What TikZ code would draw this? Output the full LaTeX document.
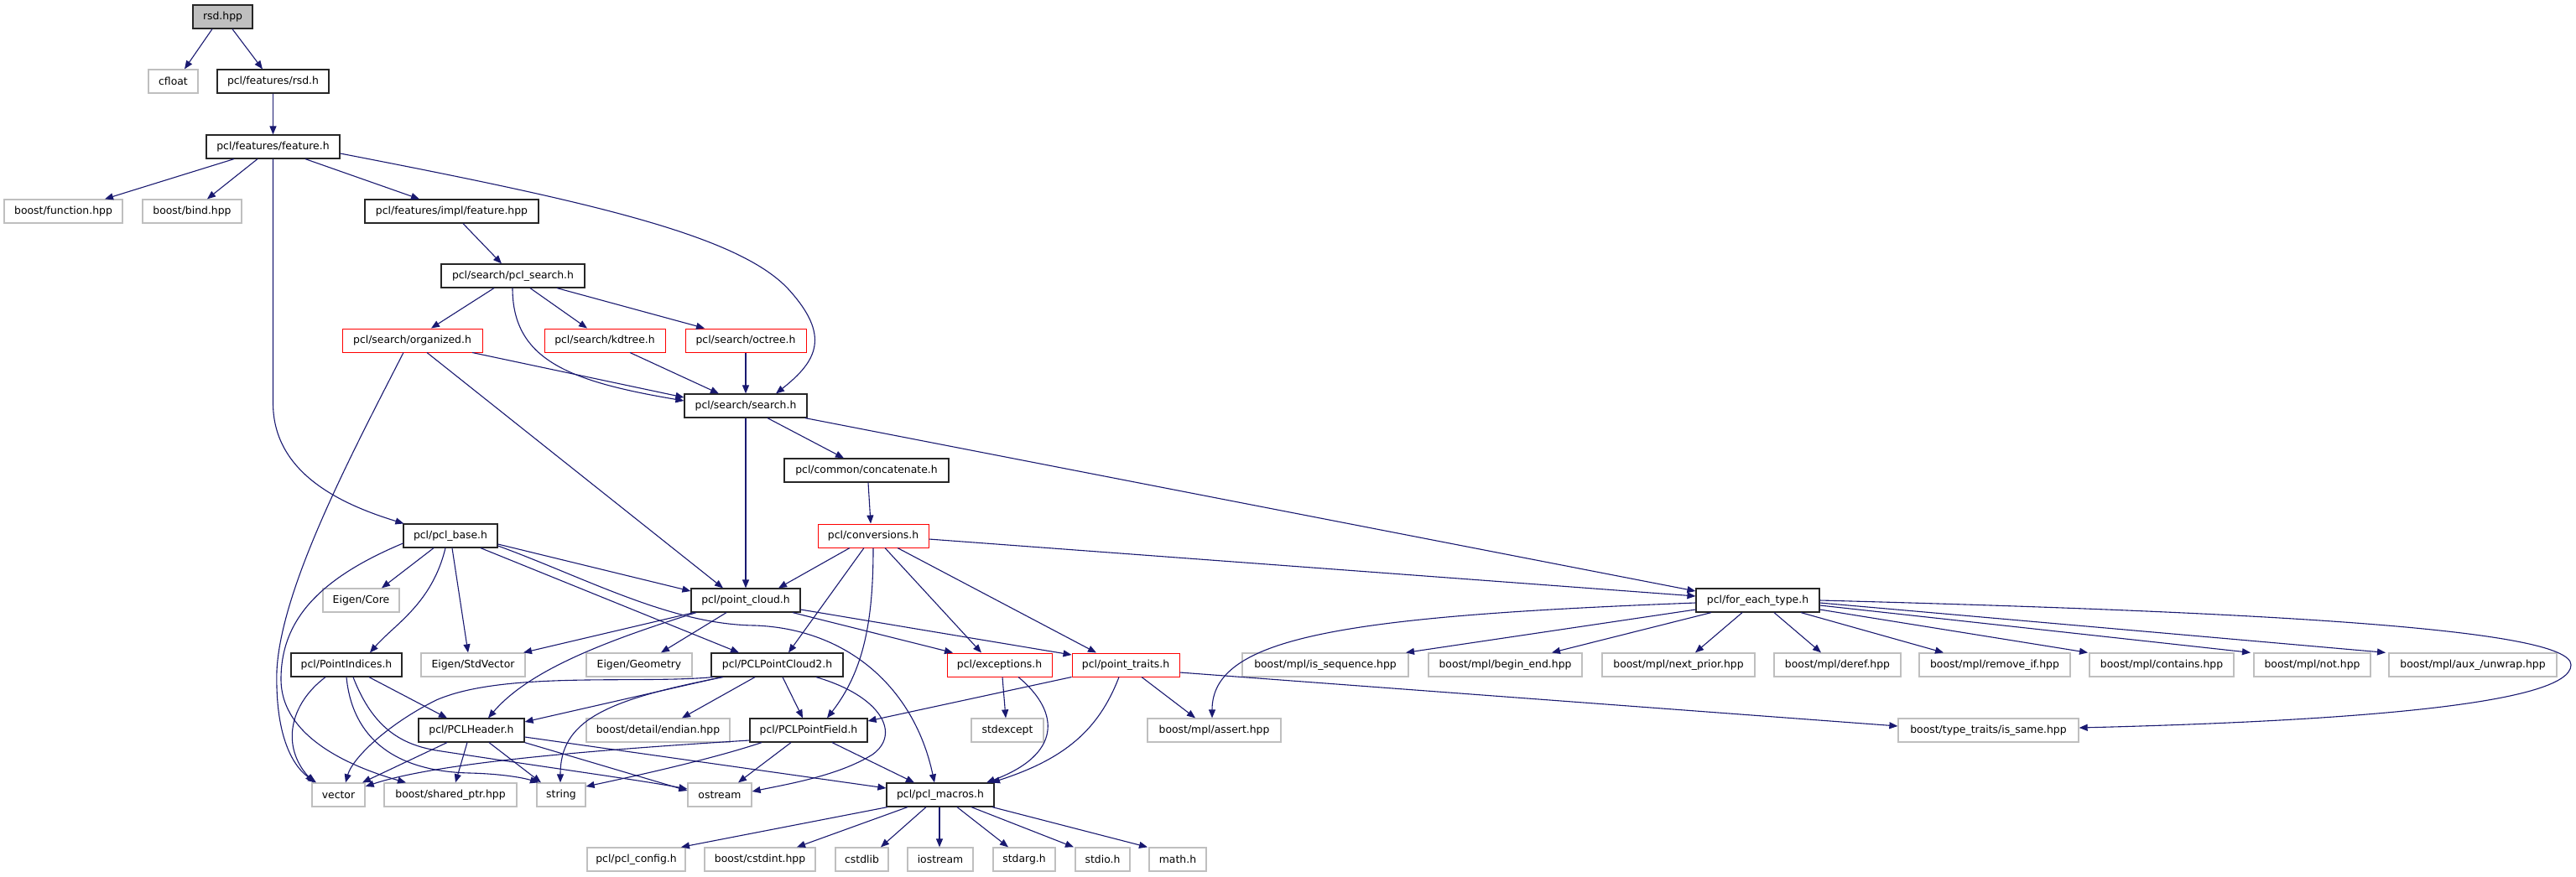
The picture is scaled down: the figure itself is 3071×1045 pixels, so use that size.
\documentclass[tikz,border=0pt]{standalone}
\usepackage{fontspec}
\setmainfont{DejaVu Sans}
\usetikzlibrary{arrows.meta}
\definecolor{edgeblue}{HTML}{191970}
\definecolor{lgray}{HTML}{BFBFBF}
\tikzset{
  box/.style={rectangle, fill=white, minimum height=14pt, inner sep=0pt, text=black,
    font=\fontsize{6.2pt}{7pt}\selectfont},
  nb/.style={box, draw=black!85, line width=0.6pt},
  ng/.style={box, draw=lgray, line width=0.65pt},
  nr/.style={box, draw=red, line width=0.5pt},
  nroot/.style={box, draw=black!85, fill=lgray, line width=0.6pt},
  e/.style={draw=edgeblue, line width=0.55pt, -{Triangle[length=5pt,width=4pt]}},
}
\begin{document}
\begin{tikzpicture}[x=0.5pt,y=-0.5pt]
\useasboundingbox (0,0) rectangle (3071,1045);
% nodes
\node[nroot, minimum width=35.5pt] (rsdhpp) at (265.5,20) {rsd.hpp};
\node[ng, minimum width=29.5pt] (cfloat) at (206.5,97) {cfloat};
\node[nb, minimum width=66.5pt] (rsdh) at (325.5,97) {pcl/features/rsd.h};
\node[nb, minimum width=79.5pt] (feat) at (325.5,175) {pcl/features/feature.h};
\node[ng, minimum width=70.5pt] (bfunc) at (75.5,252) {boost/function.hpp};
\node[ng, minimum width=59pt] (bbind) at (229,252) {boost/bind.hpp};
\node[nb, minimum width=103.5pt] (featimpl) at (538.5,252) {pcl/features/impl/feature.hpp};
\node[nb, minimum width=85.5pt] (pclsearch) at (611.5,329) {pcl/search/pcl\_search.h};
\node[nr, minimum width=83.5pt] (organized) at (491.5,406) {pcl/search/organized.h};
\node[nr, minimum width=72pt] (kdtree) at (721,406) {pcl/search/kdtree.h};
\node[nr, minimum width=72pt] (octree) at (889,406) {pcl/search/octree.h};
\node[nb, minimum width=73pt] (search) at (889,484) {pcl/search/search.h};
\node[nb, minimum width=98pt] (concat) at (1033,561) {pcl/common/concatenate.h};
\node[nb, minimum width=56pt] (pclbase) at (537,639) {pcl/pcl\_base.h};
\node[nr, minimum width=66pt] (conv) at (1041,639) {pcl/conversions.h};
\node[ng, minimum width=45.5pt] (ecore) at (430.5,716) {Eigen/Core};
\node[nb, minimum width=65pt] (pcloud) at (889,716) {pcl/point\_cloud.h};
\node[nb, minimum width=73.5pt] (foreach) at (2095.5,716) {pcl/for\_each\_type.h};
\node[nb, minimum width=66pt] (pidx) at (413,793) {pcl/PointIndices.h};
\node[ng, minimum width=62pt] (estd) at (564,793) {Eigen/StdVector};
\node[ng, minimum width=63pt] (egeo) at (762,793) {Eigen/Geometry};
\node[nb, minimum width=78.5pt] (pcl2) at (926.5,793) {pcl/PCLPointCloud2.h};
\node[nr, minimum width=62.5pt] (exc) at (1191.5,793) {pcl/exceptions.h};
\node[nr, minimum width=64pt] (ptraits) at (1342,793) {pcl/point\_traits.h};
\node[ng, minimum width=99pt] (isseq) at (1580,793) {boost/mpl/is\_sequence.hpp};
\node[ng, minimum width=91.5pt] (beginend) at (1794.5,793) {boost/mpl/begin\_end.hpp};
\node[ng, minimum width=91pt] (nextprior) at (2001,793) {boost/mpl/next\_prior.hpp};
\node[ng, minimum width=75.5pt] (deref) at (2190.5,793) {boost/mpl/deref.hpp};
\node[ng, minimum width=90pt] (removeif) at (2378,793) {boost/mpl/remove\_if.hpp};
\node[ng, minimum width=86pt] (contains) at (2577,793) {boost/mpl/contains.hpp};
\node[ng, minimum width=69.5pt] (mplnot) at (2756.5,793) {boost/mpl/not.hpp};
\node[ng, minimum width=100pt] (unwrap) at (2948,793) {boost/mpl/aux\_/unwrap.hpp};
\node[nb, minimum width=63pt] (header) at (562,871) {pcl/PCLHeader.h};
\node[ng, minimum width=85.5pt] (endian) at (784.5,871) {boost/detail/endian.hpp};
\node[nb, minimum width=70pt] (pfield) at (964,871) {pcl/PCLPointField.h};
\node[ng, minimum width=43pt] (stdexc) at (1201,871) {stdexcept};
\node[ng, minimum width=79.5pt] (assert) at (1447.5,871) {boost/mpl/assert.hpp};
\node[ng, minimum width=107.5pt] (issame) at (2370.5,871) {boost/type\_traits/is\_same.hpp};
\node[ng, minimum width=31.5pt] (vector) at (403.5,948) {vector};
\node[ng, minimum width=79pt] (sptr) at (537,948) {boost/shared\_ptr.hpp};
\node[ng, minimum width=29pt] (string) at (669,948) {string};
\node[ng, minimum width=38pt] (ostream) at (858,948) {ostream};
\node[nb, minimum width=64pt] (macros) at (1121,948) {pcl/pcl\_macros.h};
\node[ng, minimum width=58.5pt] (config) at (758.5,1025) {pcl/pcl\_config.h};
\node[ng, minimum width=66pt] (cstdint) at (906,1025) {boost/cstdint.hpp};
\node[ng, minimum width=31.5pt] (cstdlib) at (1027.5,1025) {cstdlib};
\node[ng, minimum width=39pt] (iostream) at (1121,1025) {iostream};
\node[ng, minimum width=37pt] (stdarg) at (1221,1025) {stdarg.h};
\node[ng, minimum width=32.5pt] (stdio) at (1314.5,1025) {stdio.h};
\node[ng, minimum width=34pt] (math) at (1404,1025) {math.h};
% edges
\draw[e] (rsdhpp.south -| 253,0) -- (cfloat.north -| 220,0);
\draw[e] (rsdhpp.south -| 277,0) -- (rsdh.north -| 313,0);
\draw[e] (rsdh.south) -- (feat.north);
\draw[e] (feat.south -| 279,0) -- (bfunc.north -| 125,0);
\draw[e] (feat.south -| 307,0) -- (bbind.north -| 247,0);
\draw[e] (feat.south -| 364,0) -- (featimpl.north -| 500,0);
\draw[e] (feat.south) -- ++(0,291) .. controls +(0,80) and +(-82,-25) .. ([xshift=0.5pt]pclbase.north west);
\draw[e] (feat.east |- 0,183) .. controls (700,240) and (880,280) .. (940,345) .. controls (990,400) and (975,430) .. (search.north -| 925,0);
\draw[e] (featimpl.south -| 552,0) -- (pclsearch.north -| 598,0);
\draw[e] (pclsearch.south -| 589,0) -- (organized.north -| 514,0);
\draw[e] (pclsearch.south -| 632,0) -- (kdtree.north -| 700,0);
\draw[e] (pclsearch.south -| 664,0) -- (octree.north -| 840,0);
\draw[e] (pclsearch.south -| 611,0) .. controls (611,430) and (680,455) .. (search.west |- 0,478);
\draw[e] (organized.south -| 563,0) -- (search.west |- 0,474);
\draw[e] (organized.south -| 509,0) -- (pcloud.north -| 862,0);
\draw[e] (organized.south -| 481,0) .. controls (420,540) and (335,700) .. (330,800) .. controls (328,880) and (350,915) .. (vector.north -| 377,0);
\draw[e] (kdtree.south -| 751,0) -- (search.north -| 857,0);
\draw[e] (octree.south) -- (search.north);
\draw[e] (search.south) -- (pcloud.north);
\draw[e] (search.south -| 915,0) -- (concat.north -| 1006,0);
\draw[e] (search.south -| 960,0) -- (foreach.west |- 0,705);
\draw[e] (concat.south -| 1035,0) -- (conv.north -| 1038,0);
\draw[e] (conv.south -| 1013,0) -- (pcloud.north -| 928,0);
\draw[e] (conv.south -| 1030,0) -- (pcl2.north -| 940,0);
\draw[e] (conv.south -| 1041,0) .. controls (1041,740) and (1030,800) .. (pfield.north -| 986,0);
\draw[e] (conv.south -| 1055,0) -- (exc.north -| 1170,0);
\draw[e] (conv.south -| 1070,0) -- (ptraits.north -| 1307,0);
\draw[e] (conv.east |- 0,643) -- (foreach.west |- 0,711);
\draw[e] (pclbase.south -| 517,0) -- (ecore.north -| 455,0);
\draw[e] (pclbase.south -| 531,0) .. controls (515,720) and (470,745) .. (pidx.north -| 441,0);
\draw[e] (pclbase.south -| 539,0) -- (estd.north -| 558,0);
\draw[e] (pclbase.east |- 0,649) -- (pcloud.west |- 0,705);
\draw[e] (pclbase.south -| 573,0) -- (pcl2.north -| 881,0);
\draw[e] (pclbase.east |- 0,651) .. controls (700,690) and (800,745) .. (900,746) .. controls (1010,750) and (1090,820) .. (macros.north -| 1114,0);
\draw[e] (pclbase.west |- 0,648) .. controls (380,690) and (335,740) .. (335,810) .. controls (335,880) and (420,915) .. (sptr.north -| 484,0);
\draw[e] (pcloud.south -| 827,0) -- (estd.north -| 624,0);
\draw[e] (pcloud.south -| 830,0) .. controls (720,765) and (630,800) .. (header.north -| 582,0);
\draw[e] (pcloud.south -| 866,0) -- (egeo.north -| 788,0);
\draw[e] (pcloud.south -| 945,0) -- (exc.north -| 1136,0);
\draw[e] (pcloud.east |- 0,727) -- (ptraits.west |- 0,781);
\draw[e] (pidx.south -| 388,0) .. controls (345,840) and (335,890) .. (vector.north -| 374,0);
\draw[e] (pidx.south -| 413,0) .. controls (420,880) and (470,920) .. (560,922) .. controls (600,923) and (625,928) .. (string.north -| 642,0);
\draw[e] (pidx.south -| 421,0) .. controls (445,870) and (480,888) .. (520,895) .. controls (650,915) and (760,930) .. (ostream.west |- 0,941);
\draw[e] (pidx.south -| 440,0) -- (header.north -| 533,0);
\draw[e] (pcl2.south -| 850,0) .. controls (760,816) and (600,800) .. (520,835) .. controls (460,865) and (420,905) .. (vector.north -| 412,0);
\draw[e] (pcl2.south -| 860,0) -- (header.east |- 0,861);
\draw[e] (pcl2.south -| 862,0) .. controls (720,835) and (668,860) .. (string.north -| 668,0);
\draw[e] (pcl2.south -| 900,0) -- (endian.north -| 813,0);
\draw[e] (pcl2.south -| 933,0) -- (pfield.north -| 957,0);
\draw[e] (pcl2.south -| 973,0) .. controls (1050,830) and (1075,875) .. (1040,900) .. controls (1000,925) and (940,935) .. (ostream.east |- 0,944);
\draw[e] (exc.south -| 1195,0) -- (stdexc.north -| 1199,0);
\draw[e] (exc.south -| 1214,0) .. controls (1265,850) and (1265,900) .. (macros.north -| 1176,0);
\draw[e] (ptraits.south -| 1334,0) .. controls (1310,870) and (1270,905) .. (macros.north -| 1182,0);
\draw[e] (ptraits.south west) -- (pfield.east |- 0,860);
\draw[e] (ptraits.south -| 1361,0) -- (assert.north -| 1425,0);
\draw[e] (ptraits.east |- 0,802) -- (issame.west |- 0,866);
\draw[e] (foreach.west |- 0,719) .. controls (1600,735) and (1445,760) .. (assert.north -| 1445,0);
\draw[e] (foreach.west |- 0,727) -- (isseq.north -| 1676,0);
\draw[e] (foreach.south -| 2040,0) -- (beginend.north -| 1850,0);
\draw[e] (foreach.south -| 2077,0) -- (nextprior.north -| 2021,0);
\draw[e] (foreach.south -| 2115,0) -- (deref.north -| 2171,0);
\draw[e] (foreach.south -| 2147,0) -- (removeif.north -| 2317,0);
\draw[e] (foreach.east |- 0,727) -- (contains.north -| 2489,0);
\draw[e] (foreach.east |- 0,722) -- (mplnot.north -| 2683,0);
\draw[e] (foreach.east |- 0,719) -- (unwrap.north -| 2844,0);
\draw[e] (foreach.east |- 0,716) .. controls (2700,730) and (3065,750) .. (3065,793) .. controls (3065,840) and (2800,860) .. (issame.east |- 0,868);
\draw[e] (header.south -| 533,0) -- (vector.north -| 432,0);
\draw[e] (header.south -| 557,0) -- (sptr.north -| 543,0);
\draw[e] (header.south -| 583,0) -- (string.north -| 645,0);
\draw[e] (header.east |- 0,879) -- (macros.west |- 0,940);
\draw[e] (header.south east) -- (ostream.west |- 0,943);
\draw[e] (pfield.west |- 0,883) .. controls (700,895) and (520,910) .. (vector.east |- 0,938);
\draw[e] (pfield.south -| 908,0) .. controls (850,905) and (760,925) .. (string.east |- 0,938);
\draw[e] (pfield.south -| 943,0) -- (ostream.north -| 880,0);
\draw[e] (pfield.south -| 992,0) -- (macros.north -| 1090,0);
\draw[e] (macros.south -| 1058,0) -- (config.north -| 812,0);
\draw[e] (macros.south -| 1082,0) -- (cstdint.north -| 950,0);
\draw[e] (macros.south -| 1104,0) -- (cstdlib.north -| 1050,0);
\draw[e] (macros.south -| 1120,0) -- (iostream.north -| 1120,0);
\draw[e] (macros.south -| 1141,0) -- (stdarg.north -| 1202,0);
\draw[e] (macros.south -| 1158,0) -- (stdio.north -| 1280,0);
\draw[e] (macros.south -| 1183,0) -- (math.north -| 1368,0);
\end{tikzpicture}
\end{document}
